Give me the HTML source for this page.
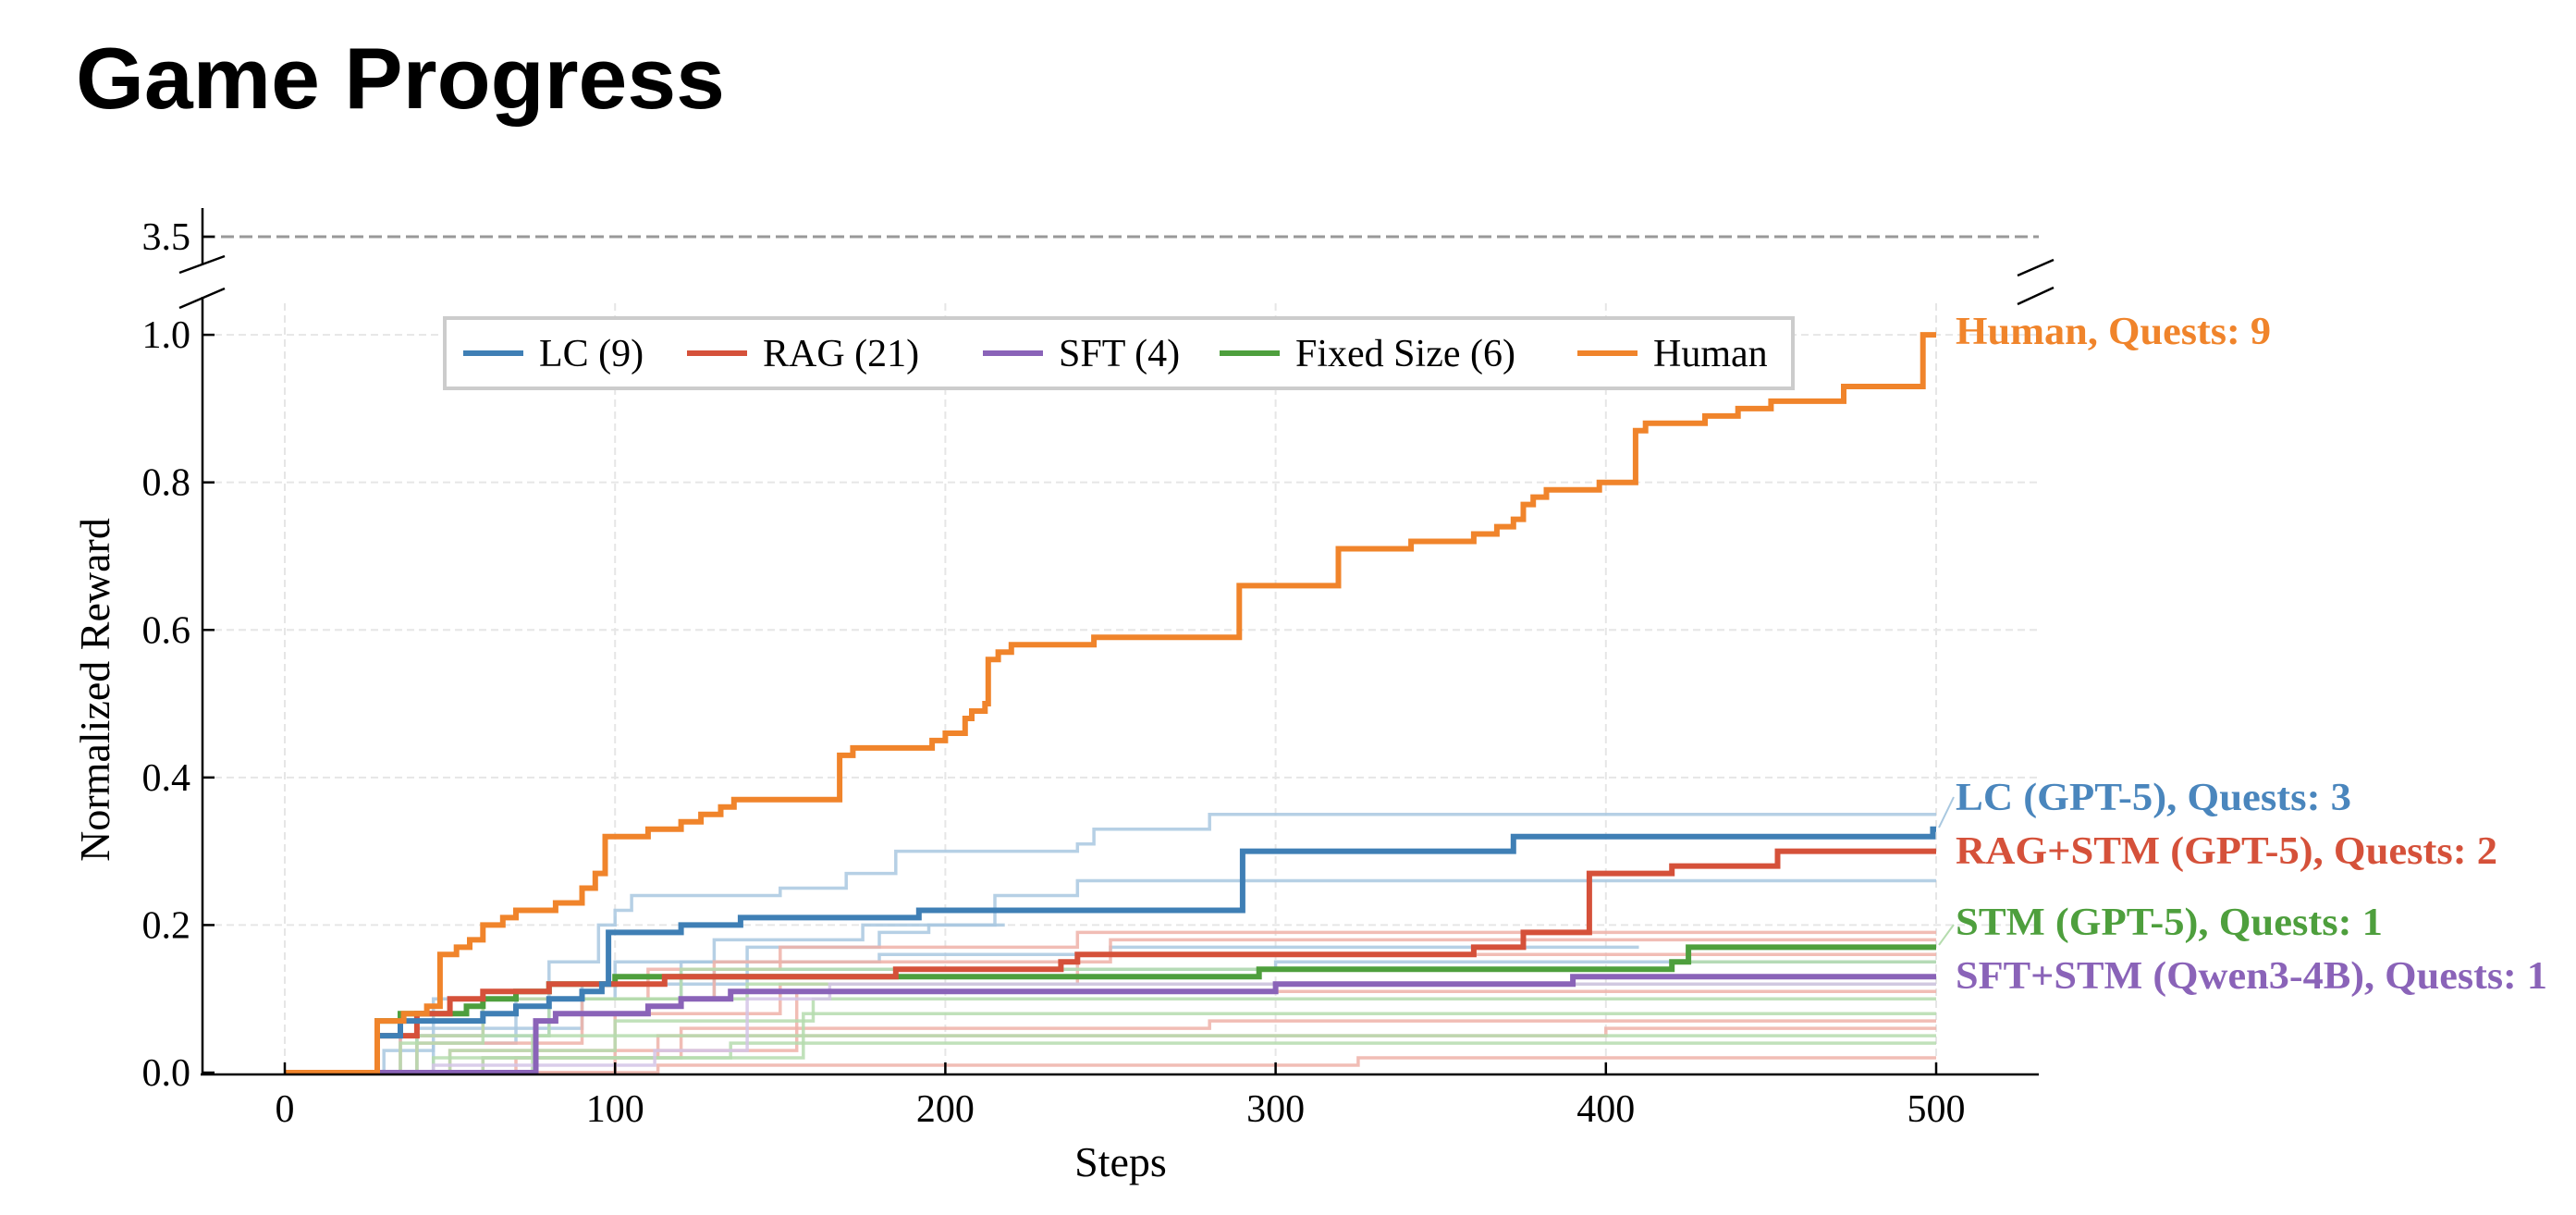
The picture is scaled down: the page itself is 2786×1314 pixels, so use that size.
<!DOCTYPE html>
<html><head><meta charset="utf-8"><style>
html,body{margin:0;padding:0;background:#fff;}
body{width:2786px;height:1314px;overflow:hidden;position:relative;}
svg{position:absolute;left:0;top:0;}
text{font-family:"Liberation Serif",serif;}
</style></head><body>
<svg id="s" width="2786" height="1314" xmlns="http://www.w3.org/2000/svg"></svg>
<script>
const S=document.getElementById('s');
const X=s=>308+3.572*s, Y=v=>1160-797.9*v;
let h='';
h+=`<text x="82" y="117" font-size="94" font-weight="bold" style="font-family:'Liberation Sans',sans-serif" textLength="702" lengthAdjust="spacingAndGlyphs">Game Progress</text>`;
for(let s=0;s<=500;s+=100){h+=`<line x1="${X(s)}" y1="328" x2="${X(s)}" y2="1160" stroke="#e6e6e6" stroke-width="2" stroke-dasharray="8,5"/>`;}
for(let v=0.2;v<=1.01;v+=0.2){h+=`<line x1="219" y1="${Y(v)}" x2="2205" y2="${Y(v)}" stroke="#e6e6e6" stroke-width="2" stroke-dasharray="8,5"/>`;}
h+=`<line x1="219" y1="256" x2="2205" y2="256" stroke="#999" stroke-width="3" stroke-dasharray="14,6"/>`;
function path(pts,col,w,end,op){let d=`M${X(0)} ${Y(0)}`;for(const [s,v] of pts){d+=` H${X(s).toFixed(1)} V${Y(v).toFixed(1)}`;}d+=` H${X(end).toFixed(1)}`;return `<path d="${d}" fill="none" stroke="${col}" stroke-width="${w}" opacity="${op}" stroke-linejoin="miter"/>`;}
const LB='#a9c8e0',LR='#eeb2a8',LG='#b5dcae',LP='#d3c4e6';
const faint=[
[LB,[[30,0.03],[45,0.1],[80,0.15],[95,0.2],[100,0.22],[105,0.24],[150,0.25],[170,0.27],[185,0.3],[240,0.31],[245,0.33],[280,0.35]],500],
[LB,[[35,0.05],[60,0.1],[100,0.15],[130,0.18],[175,0.2],[215,0.24],[240,0.26]],500],
[LB,[[40,0.06],[90,0.12],[140,0.17],[180,0.19],[195,0.2]],218],
[LB,[[40,0.05],[80,0.1],[120,0.15],[180,0.16],[250,0.17]],410],
[LB,[[45,0.04],[70,0.1],[130,0.14],[300,0.15]],500],
[LR,[[35,0.05],[60,0.1],[110,0.14],[150,0.17],[240,0.19]],500],
[LR,[[40,0.04],[90,0.1],[130,0.15],[250,0.18]],500],
[LR,[[50,0.03],[100,0.08],[150,0.12],[240,0.16]],500],
[LR,[[60,0.02],[120,0.06],[280,0.07]],500],
[LR,[[70,0.02],[113,0.05],[400,0.06]],500],
[LR,[[113,0.01],[325,0.02]],500],
[LR,[[100,0.03],[155,0.11]],500],
[LG,[[35,0.04],[60,0.1],[120,0.14],[420,0.15]],500],
[LG,[[40,0.05],[80,0.1],[140,0.12]],500],
[LG,[[50,0.03],[100,0.07],[160,0.1]],500],
[LG,[[60,0.02],[157,0.08],[280,0.08]],500],
[LG,[[75,0.05],[397,0.05]],500],
[LG,[[45,0.02],[135,0.04]],500],
[LP,[[45,0.01],[112,0.03],[140,0.1],[165,0.12]],500],
];
for(const f of faint)h+=path(f[1],f[0],3.5,f[2],0.85);
const human=[[28,0.07],[36,0.08],[43,0.09],[47,0.16],[52,0.17],[56,0.18],[60,0.2],[66,0.21],[70,0.22],[82,0.23],[90,0.25],[94,0.27],[97,0.32],[110,0.33],[120,0.34],[126,0.35],[132,0.36],[136,0.37],[168,0.43],[172,0.44],[196,0.45],[200,0.46],[206,0.48],[208,0.49],[212,0.5],[213,0.56],[216,0.57],[220,0.58],[245,0.59],[289,0.66],[319,0.71],[341,0.72],[360,0.73],[367,0.74],[372,0.75],[375,0.77],[378,0.78],[382,0.79],[398,0.8],[409,0.87],[412,0.88],[430,0.89],[440,0.9],[450,0.91],[472,0.93],[496,1.0]];
const lc=[[28,0.05],[35,0.07],[60,0.08],[70,0.09],[80,0.1],[90,0.11],[96,0.12],[98,0.19],[120,0.2],[138,0.21],[192,0.22],[290,0.3],[372,0.32],[499,0.33]];
const rag=[[28,0.05],[40,0.08],[50,0.1],[60,0.11],[80,0.12],[115,0.13],[185,0.14],[235,0.15],[240,0.16],[360,0.17],[375,0.19],[395,0.27],[420,0.28],[452,0.3]];
const stm=[[28,0.07],[35,0.08],[55,0.09],[60,0.1],[70,0.11],[80,0.12],[100,0.13],[295,0.14],[420,0.15],[425,0.17]];
const sft=[[76,0.07],[82,0.08],[110,0.09],[120,0.1],[135,0.11],[300,0.12],[390,0.13]];
h+=path(stm,'#4e9f3d',6,500,1);
h+=path(sft,'#8a63b8',6,500,1);
h+=path(rag,'#d5513a',6,500,1);
h+=path(lc,'#3f7fb5',6,500,1);
h+=path(human,'#f0842b',6,500,1);
h+=`<g stroke="#000" stroke-width="2.5" fill="none">
<line x1="219" y1="225" x2="219" y2="286"/><line x1="219" y1="321" x2="219" y2="1162"/>
<line x1="217" y1="1162" x2="2205" y2="1162"/>
<line x1="194" y1="295" x2="243" y2="277"/><line x1="194" y1="333" x2="243" y2="312"/>
<line x1="2182" y1="298" x2="2221" y2="281"/><line x1="2182" y1="329" x2="2221" y2="311"/>
<line x1="219" y1="256" x2="232" y2="256"/></g>`;
for(let v=0;v<=1.01;v+=0.2){h+=`<line x1="219" y1="${Y(v)}" x2="232" y2="${Y(v)}" stroke="#000" stroke-width="2.5"/><text x="206" y="${Y(v)+14}" font-size="42" text-anchor="end">${v.toFixed(1)}</text>`;}
h+=`<text x="206" y="270" font-size="42" text-anchor="end">3.5</text>`;
for(let s=0;s<=500;s+=100){h+=`<line x1="${X(s)}" y1="1162" x2="${X(s)}" y2="1149" stroke="#000" stroke-width="2.5"/><text x="${X(s)}" y="1213" font-size="42" text-anchor="middle">${s}</text>`;}
h+=`<text x="1212" y="1272" font-size="46" text-anchor="middle">Steps</text>`;
h+=`<text transform="translate(118,746) rotate(-90)" font-size="46" text-anchor="middle">Normalized Reward</text>`;
h+=`<rect x="481" y="344" width="1458" height="76" fill="#fff" stroke="#ccc" stroke-width="4"/>`;
const L=[[501,'#3f7fb5','LC (9)'],[743,'#d5513a','RAG (21)'],[1063,'#8a63b8','SFT (4)'],[1319,'#4e9f3d','Fixed Size (6)'],[1706,'#f0842b','Human']];
for(const [x,c,t] of L){h+=`<line x1="${x}" y1="382" x2="${x+65}" y2="382" stroke="${c}" stroke-width="6"/><text x="${x+82}" y="396" font-size="42">${t}</text>`;}
const R=[[372,'#f0842b','Human, Quests: 9',341],[876,'#4a86bd','LC (GPT-5), Quests: 3',428],[934,'#d5513a','RAG+STM (GPT-5), Quests: 2',586],[1011,'#4e9f3d','STM (GPT-5), Quests: 1',462],[1069,'#8a63b8','SFT+STM (Qwen3-4B), Quests: 1',640]];
for(const [y,c,t,w] of R){h+=`<text x="2115" y="${y}" font-size="42" font-weight="bold" fill="${c}" textLength="${w}" lengthAdjust="spacingAndGlyphs">${t}</text>`;}
h+=`<line x1="2097" y1="895" x2="2113" y2="862" stroke="#a9c8e0" stroke-width="2"/><line x1="2097" y1="1022" x2="2113" y2="1000" stroke="#b5dcae" stroke-width="2"/>`;
S.innerHTML=h;
</script>
</body></html>
